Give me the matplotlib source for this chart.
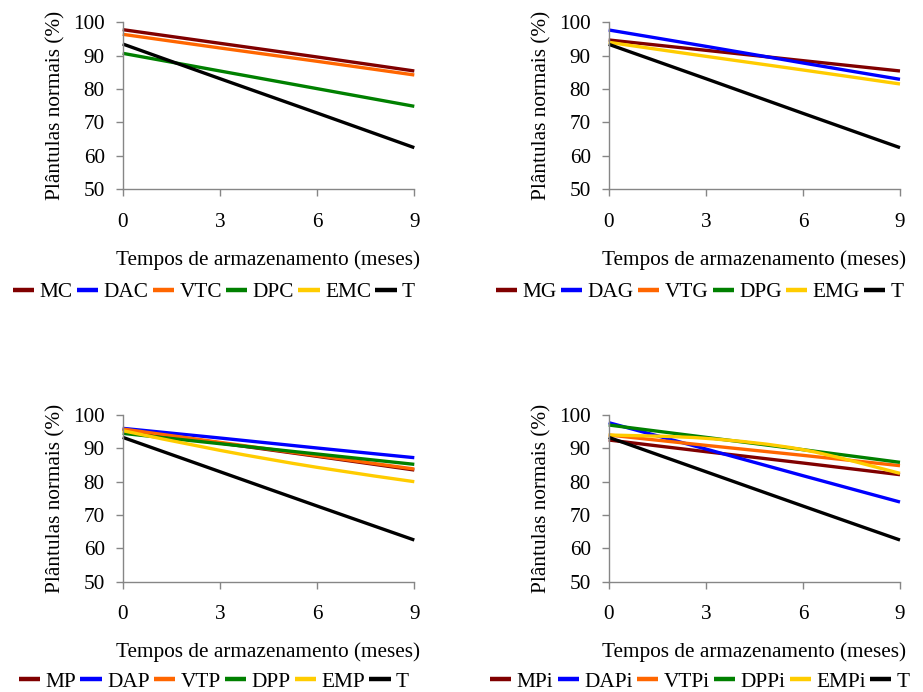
import matplotlib
matplotlib.use("Agg")
import matplotlib.pyplot as plt
from matplotlib.path import Path
from matplotlib.patches import PathPatch
from matplotlib.lines import Line2D

plt.rcParams['font.family'] = ['Liberation Serif', 'DejaVu Serif']

months = [0, 3, 6, 9]
x_ticks = [0, 3, 6, 9]
y_ticks = [50, 60, 70, 80, 90, 100]
ylabel = "Plântulas normais (%)"
xlabel = "Tempos de armazenamento (meses)"

colors = ["#800000", "#0000FF", "#FF6600", "#008000", "#FFCC00", "#000000"]

# Panel 1 (C)
labels_c = ["MC", "DAC", "VTC", "DPC", "EMC", "T"]
mc = [97.8, 93.7, 89.6, 85.4]
dac = None
vtc = [96.4, 92.3, 88.3, 84.2]
dpc = [90.7, 85.4, 80.1, 74.8]
emc = None
t_c = [93.5, 83.1, 72.8, 62.4]

# Panel 2 (G)
labels_g = ["MG", "DAG", "VTG", "DPG", "EMG", "T"]
mg = [94.7, 91.6, 88.5, 85.4]
dag = [97.7, 92.8, 87.8, 82.9]
vtg = None
dpg = None
emg = [94.0, 89.8, 85.7, 81.5]
t_g = [93.4, 83.1, 72.7, 62.4]

# Panel 3 (P)
labels_p = ["MP", "DAP", "VTP", "DPP", "EMP", "T"]
mp = [95.7, 91.6, 87.6, 83.5]
dap = [96.0, 93.1, 90.1, 87.2]
vtp = [95.8, 91.8, 87.8, 83.8]
dpp = [94.5, 91.4, 88.3, 85.2]
emp = [95.3, 89.4, 84.3, 80.0]
t_p = [93.3, 83.0, 72.7, 62.5]

# Panel 4 (Pi)
labels_pi = ["MPi", "DAPi", "VTPi", "DPPi", "EMPi", "T"]
mpi = [92.5, 89.0, 85.6, 82.1]
dapi = [97.7, 89.8, 81.8, 73.9]
vtpi = [94.0, 90.9, 87.9, 84.8]
dppi = [97.0, 93.3, 89.6, 85.8]
empi = [94.0, 93.0, 89.6, 82.5]
t_pi = [93.3, 83.0, 72.7, 62.5]

panels = [
    (labels_c, [mc, dac, vtc, dpc, emc, t_c]),
    (labels_g, [mg, dag, vtg, dpg, emg, t_g]),
    (labels_p, [mp, dap, vtp, dpp, emp, t_p]),
    (labels_pi, [mpi, dapi, vtpi, dppi, empi, t_pi]),
]

W, H = 923, 692
fig = plt.figure(figsize=(W / 100, H / 100), dpi=100)

# axes boxes in pixels: left, top(y of 100), right, bottom(y of 50)
boxes = [
    (122.7, 22.3, 414.3, 189.0),
    (608.7, 22.3, 900.0, 189.0),
    (122.7, 415.0, 414.3, 581.7),
    (608.7, 415.0, 900.0, 581.7),
]
legend_y = [-0.619, -0.619, -0.600, -0.600]


def smooth_path(xs, ys):
    pts = list(zip(xs, ys))
    n = len(pts)
    verts = [pts[0]]
    codes = [Path.MOVETO]
    for i in range(n - 1):
        p0 = pts[i - 1] if i > 0 else pts[i]
        p1 = pts[i]
        p2 = pts[i + 1]
        p3 = pts[i + 2] if i + 2 < n else pts[i + 1]
        c1 = (p1[0] + (p2[0] - p0[0]) / 6, p1[1] + (p2[1] - p0[1]) / 6)
        c2 = (p2[0] - (p3[0] - p1[0]) / 6, p2[1] - (p3[1] - p1[1]) / 6)
        verts += [c1, c2, p2]
        codes += [Path.CURVE4] * 3
    return Path(verts, codes)


spine_color = "#868686"
for (labels, series), (l, t, r, b), ly in zip(panels, boxes, legend_y):
    ax = fig.add_axes([l / W, 1 - b / H, (r - l) / W, (b - t) / H])
    handles = []
    for lab, vals, col in zip(labels, series, colors):
        if vals is not None:
            patch = PathPatch(smooth_path(months, vals), facecolor="none",
                              edgecolor=col, lw=2.4, capstyle="butt",
                              clip_on=False)
            ax.add_patch(patch)
        handles.append(Line2D([], [], color=col, lw=3.2, solid_capstyle="butt"))
    ax.set_xlim(0, 9)
    ax.set_ylim(50, 100)
    ax.set_xticks(x_ticks)
    ax.set_yticks(y_ticks)
    for s in ["top", "right"]:
        ax.spines[s].set_visible(False)
    for s in ["left", "bottom"]:
        ax.spines[s].set_color(spine_color)
        ax.spines[s].set_linewidth(1.0)
    ax.tick_params(axis="both", direction="out", length=5, width=1.0,
                   color=spine_color, labelsize=15.3, labelcolor="black")
    ax.tick_params(axis="y", pad=8)
    ax.tick_params(axis="x", pad=12)
    ax.set_ylabel(ylabel, fontsize=15.3)
    ax.yaxis.set_label_coords(-0.195, 0.5)
    ax.set_xlabel(xlabel, fontsize=15.3)
    ax.xaxis.set_label_coords(0.5, -0.366)
    ax.legend(handles, labels, loc="center", bbox_to_anchor=(0.313, ly),
              ncol=6, frameon=False, fontsize=15.3, handlelength=1.0,
              handletextpad=0.25, columnspacing=0.2, borderaxespad=0,
              borderpad=0)

fig.savefig("out.png", dpi=100)
